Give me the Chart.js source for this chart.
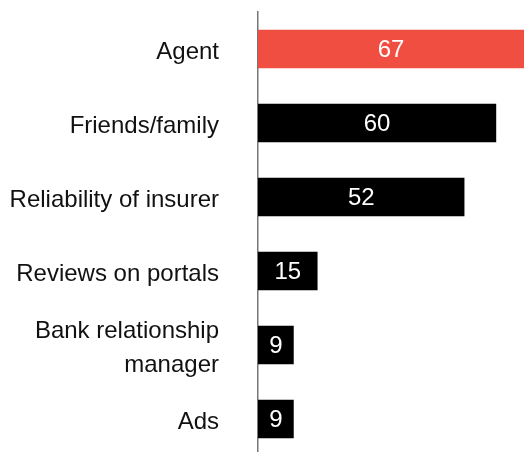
<!DOCTYPE html>
<html>
<head>
<meta charset="utf-8">
<script src="https://cdn.jsdelivr.net/npm/chart.js@4/dist/chart.umd.min.js"></script>
<style>
html,body{margin:0;padding:0;background:#fff;overflow:hidden;}
#wrap{width:524px;height:456px;}
</style>
</head>
<body>
<div id="wrap"><canvas id="c" width="524" height="456"></canvas></div>
<script>
const categories = ["Agent", "Friends/family", "Reliability of insurer", "Reviews on portals", ["Bank relationship", "manager"], "Ads"];
const values = [67, 60, 52, 15, 9, 9];
const barColors = ["#F14E42", "#000000", "#000000", "#000000", "#000000", "#000000"];

const valueLabels = {
  id: 'valueLabels',
  afterDatasetsDraw(chart) {
    const ctx = chart.ctx;
    const meta = chart.getDatasetMeta(0);
    ctx.save();
    ctx.fillStyle = '#ffffff';
    ctx.font = '24px "Liberation Sans", Arial, sans-serif';
    ctx.textAlign = 'center';
    ctx.textBaseline = 'middle';
    meta.data.forEach((bar, i) => {
      const p = bar.getProps(['x', 'y', 'base'], true);
      ctx.fillText(String(values[i]), (p.x + p.base) / 2, p.y + 1);
    });
    ctx.restore();
  }
};

new Chart(document.getElementById('c'), {
  type: 'bar',
  data: {
    labels: categories,
    datasets: [{
      data: values,
      backgroundColor: barColors,
      borderWidth: 0,
      barPercentage: 0.52,
      categoryPercentage: 1.0
    }]
  },
  options: {
    indexAxis: 'y',
    responsive: false,
    animation: false,
    layout: { padding: { top: 12, right: 0, bottom: 0, left: 0 } },
    plugins: { legend: { display: false }, tooltip: { enabled: false } },
    scales: {
      x: { display: false, min: 0, max: 67 },
      y: {
        afterFit(scale) {
          scale.width = 258; scale.paddingTop = 0; scale.paddingBottom = 0;
          if (!scale._shifted) {
            const orig = scale.drawLabels;
            scale.drawLabels = function (area) {
              this.ctx.save();
              this.ctx.translate(0, 3);
              orig.call(this, area);
              this.ctx.restore();
            };
            scale._shifted = true;
          }
        },
        grid: { display: false, drawTicks: false },
        border: { display: true, color: '#777777', width: 1.5 },
        ticks: {
          color: '#111111',
          padding: 39,
          font: { family: '"Liberation Sans", Arial, sans-serif', size: 24, lineHeight: 1.42 }
        }
      }
    }
  },
  plugins: [valueLabels]
});
</script>
</body>
</html>
